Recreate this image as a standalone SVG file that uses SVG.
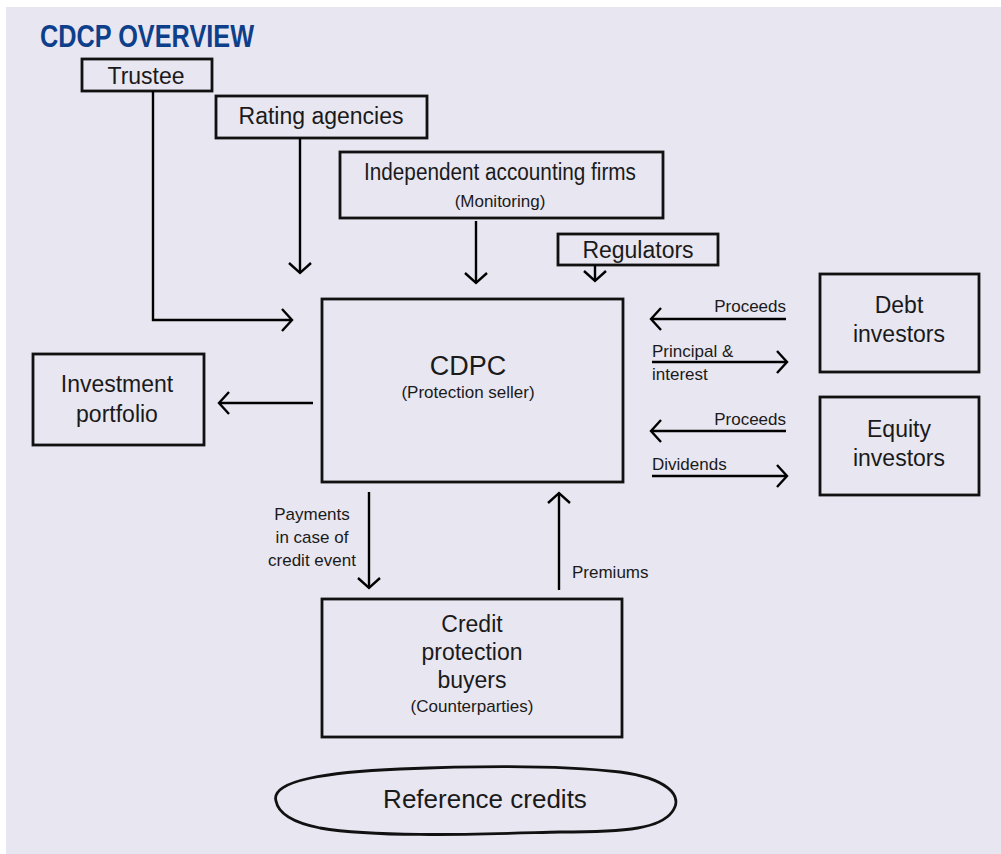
<svg xmlns="http://www.w3.org/2000/svg" width="1001" height="854" viewBox="0 0 1001 854">
<defs>
<marker id="chev" markerUnits="userSpaceOnUse" markerWidth="16" markerHeight="26" refX="12" refY="13" orient="auto" viewBox="0 0 16 26">
<path d="M2,2 L12,13 L2,24" fill="none" stroke="#000" stroke-width="2.4"/>
</marker>
</defs>
<style>
.box{fill:none;stroke:#111;stroke-width:2.8}
.ln{fill:none;stroke:#000;stroke-width:2.4;marker-end:url(#chev)}
text{font-family:"Liberation Sans",Arial,sans-serif;fill:#1a1a1a}
.big{font-size:23px;text-anchor:middle}
.sm{font-size:17px}
.c{text-anchor:middle}
.r{text-anchor:end}
.title{font-family:"Liberation Sans",Arial,sans-serif;font-weight:bold;font-size:32px;fill:#0E3F8A}
</style>
<rect x="0" y="0" width="1001" height="854" fill="#ffffff"/>
<rect x="6" y="7" width="995" height="847" fill="#E8E6F1"/>
<text class="title" x="40" y="47" textLength="214" lengthAdjust="spacingAndGlyphs">CDCP OVERVIEW</text>

<g id="trustee"><rect class="box" x="82" y="59" width="130" height="32"/><text class="big" x="146" y="84">Trustee</text></g>
<g id="rating"><rect class="box" x="216" y="96" width="211" height="42"/><text class="big" x="321" y="124">Rating agencies</text></g>
<g id="accounting"><rect class="box" x="340" y="152" width="323" height="66"/><text class="big" x="500" y="180" textLength="272" lengthAdjust="spacingAndGlyphs">Independent accounting firms</text><text class="sm c" x="500" y="207">(Monitoring)</text></g>
<g id="regulators"><rect class="box" x="558" y="234" width="160" height="31"/><text class="big" x="638" y="258">Regulators</text></g>
<g id="cdpc"><rect class="box" x="322" y="299" width="301" height="183"/><text x="468" y="375" font-size="27" class="c">CDPC</text><text class="sm c" x="468" y="398">(Protection seller)</text></g>
<g id="investment"><rect class="box" x="33" y="354" width="171" height="91"/><text class="big" x="117" y="392">Investment</text><text class="big" x="117" y="422">portfolio</text></g>
<g id="debt"><rect class="box" x="820" y="274" width="159" height="98"/><text class="big" x="899" y="313">Debt</text><text class="big" x="899" y="342">investors</text></g>
<g id="equity"><rect class="box" x="820" y="397" width="159" height="98"/><text class="big" x="899" y="437">Equity</text><text class="big" x="899" y="466">investors</text></g>
<g id="buyers"><rect class="box" x="322" y="599" width="300" height="138"/><text class="big" x="472" y="632">Credit</text><text class="big" x="472" y="660">protection</text><text class="big" x="472" y="688">buyers</text><text class="sm c" x="472" y="712">(Counterparties)</text></g>
<g id="reference"><path class="box" d="M276,801 C270,780 330,772 400,769 C470,766 560,765 620,772 C665,778 685,795 672,812 C660,828 630,832 560,832 C480,834 380,838 320,828 C290,822 278,812 276,801 Z"/><text class="big" x="485" y="808" style="font-size:26px">Reference credits</text></g>

<g id="connectors">
<polyline class="ln" points="153,91 153,320 292,320"/>
<line class="ln" x1="300" y1="138" x2="300" y2="273"/>
<line class="ln" x1="476" y1="221" x2="476" y2="283"/>
<line class="ln" x1="595" y1="265" x2="595" y2="281"/>
<line class="ln" x1="313" y1="403" x2="219" y2="403"/>
<line class="ln" x1="786" y1="319" x2="651" y2="319"/>
<line class="ln" x1="652" y1="362" x2="787" y2="362"/>
<line class="ln" x1="786" y1="431" x2="651" y2="431"/>
<line class="ln" x1="652" y1="476" x2="787" y2="476"/>
<line class="ln" x1="369" y1="492" x2="369" y2="588"/>
<line class="ln" x1="559" y1="590" x2="559" y2="493"/>
<text class="sm r" x="786" y="312">Proceeds</text>
<text class="sm" x="652" y="357">Principal &amp;</text>
<text class="sm" x="652" y="380">interest</text>
<text class="sm r" x="786" y="425">Proceeds</text>
<text class="sm" x="652" y="470">Dividends</text>
<text class="sm c" x="312" y="520">Payments</text>
<text class="sm c" x="312" y="543">in case of</text>
<text class="sm c" x="312" y="566">credit event</text>
<text class="sm" x="572" y="578">Premiums</text>
</g>
</svg>
